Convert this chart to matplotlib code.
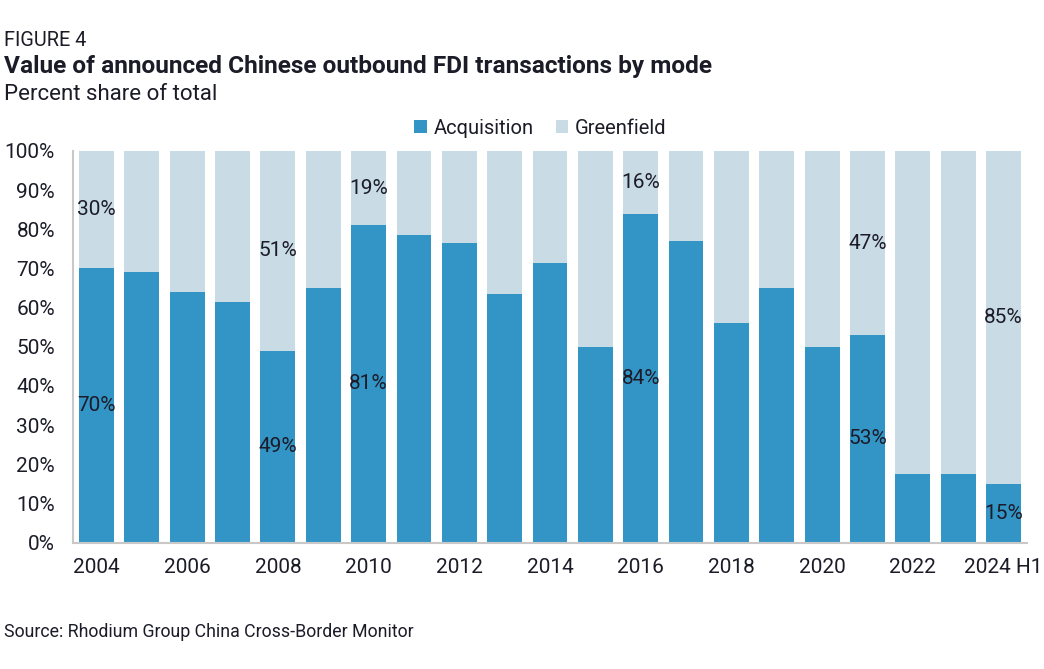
import numpy as np
import matplotlib.pyplot as plt

plt.rcParams['font.family'] = ['Roboto', 'DejaVu Sans']

# data (acquisition share, %)
years = ['2004', '2005', '2006', '2007', '2008', '2009', '2010', '2011', '2012', '2013',
         '2014', '2015', '2016', '2017', '2018', '2019', '2020', '2021', '2022', '2023', '2024 H1']
acquisition = [70, 69, 64, 61.5, 49, 65, 81, 78.5, 76.5, 63.5,
               71.5, 50, 84, 77, 56, 65, 50, 53, 17.5, 17.5, 15]
greenfield = [100 - a for a in acquisition]
labeled = ['2004', '2008', '2010', '2016', '2021', '2024 H1']
tick_years = ['2004', '2006', '2008', '2010', '2012', '2014', '2016', '2018', '2020', '2022', '2024 H1']

c_acq = '#3394c6'
c_green = '#c9dbe4'
txt = '#1c1c28'

fig = plt.figure(figsize=(10.44, 6.69), dpi=100)
ax = fig.add_axes([73 / 1044, 1 - 542.5 / 669, (1027 - 73) / 1044, (542.5 - 151) / 669])

x = np.arange(len(years))
ax.bar(x, acquisition, width=0.77, color=c_acq, label='Acquisition')
ax.bar(x, greenfield, width=0.77, bottom=acquisition, color=c_green, label='Greenfield')

for i, y in enumerate(years):
    if y in labeled:
        a = acquisition[i]
        g = greenfield[i]
        ax.text(i, a / 2, f'{a:.0f}%', ha='center', va='center', fontsize=15, color=txt)
        ax.text(i, a + g / 2, f'{g:.0f}%', ha='center', va='center', fontsize=15, color=txt)

ax.set_xlim(-0.52, len(years) - 0.48)
ax.set_ylim(0, 100)
ax.set_yticks(np.arange(0, 101, 10))
ax.set_yticklabels([f'{v}%' for v in range(0, 101, 10)])
ax.set_xticks([years.index(t) for t in tick_years])
ax.set_xticklabels(tick_years)
ax.tick_params(axis='both', length=0, labelsize=15, colors=txt)
ax.tick_params(axis='x', pad=11)
ax.tick_params(axis='y', pad=13)

for s in ['top', 'right']:
    ax.spines[s].set_visible(False)
for s in ['left', 'bottom']:
    ax.spines[s].set_color('#c8c8c8')
    ax.spines[s].set_linewidth(1.5)

leg = ax.legend(loc='lower center', bbox_to_anchor=(0.49, 1.0), ncol=2, frameon=False,
                fontsize=14.5, handlelength=0.6, handleheight=0.6, handletextpad=0.35,
                columnspacing=1.1, borderaxespad=0.25)
for t in leg.get_texts():
    t.set_color(txt)

fig.text(4 / 1044, 1 - 40 / 669, 'FIGURE 4', fontsize=14.3, color=txt, va='center')
fig.text(4 / 1044, 1 - 67 / 669, 'Value of announced Chinese outbound FDI transactions by mode',
         fontsize=17.6, fontweight='bold', color=txt, va='center')
fig.text(4 / 1044, 1 - 95 / 669, 'Percent share of total', fontsize=16, color=txt, va='center')
fig.text(4 / 1044, 1 - 632 / 669, 'Source: Rhodium Group China Cross-Border Monitor',
         fontsize=12.8, color=txt, va='center')

fig.savefig('out.png', dpi=100)
